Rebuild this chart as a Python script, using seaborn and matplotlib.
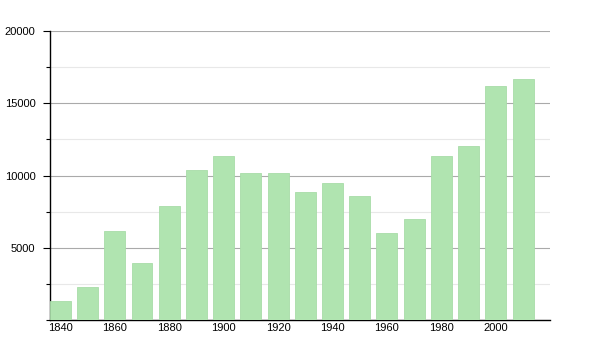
import matplotlib
matplotlib.use("Agg")
import matplotlib.pyplot as plt
import seaborn as sns
import pandas as pd
from matplotlib.ticker import MultipleLocator

years = [1840, 1850, 1860, 1870, 1880, 1890, 1900, 1910, 1920, 1930,
         1940, 1950, 1960, 1970, 1980, 1990, 2000, 2010]
population = [1300, 2280, 6160, 3950, 7890, 10380, 11350, 10170, 10170, 8860,
              9480, 8580, 6020, 6990, 11350, 12040, 16190, 16680]
ytick_values = [5000, 10000, 15000, 20000]
xtick_values = [1840, 1860, 1880, 1900, 1920, 1940, 1960, 1980, 2000]

df = pd.DataFrame({"year": years, "pop": population})

sns.set_style("white")
plt.rcParams["font.family"] = ["Liberation Sans", "DejaVu Sans"]
plt.rcParams["text.color"] = "black"
plt.rcParams["xtick.color"] = "black"
plt.rcParams["ytick.color"] = "black"

fig = plt.figure(figsize=(6, 3.5), dpi=100)
ax = fig.add_axes([50 / 600, 30 / 350, 500 / 600, 289 / 350])

sns.barplot(data=df, x="year", y="pop", native_scale=True, width=0.77,
            color="#b0e4b0", saturation=1, edgecolor="#a8dca8", linewidth=0.6,
            ax=ax, zorder=3)

ax.set_xlim(1836.2, 2019.9)
ax.set_ylim(0, 20000)
ax.set_xticks(xtick_values)
ax.set_xticklabels([str(v) for v in xtick_values])
ax.set_yticks(ytick_values)
ax.set_yticklabels([str(v) for v in ytick_values])
ax.yaxis.set_minor_locator(MultipleLocator(2500))

ax.grid(axis="y", which="major", color="#aaaaaa", linewidth=0.8, zorder=0)
ax.grid(axis="y", which="minor", color="#e8e8e8", linewidth=0.8, zorder=0)
ax.set_axisbelow(True)

for s in ["top", "right"]:
    ax.spines[s].set_visible(False)
for s in ["left", "bottom"]:
    ax.spines[s].set_color("black")
    ax.spines[s].set_linewidth(1.0)

ax.tick_params(axis="y", which="major", length=5, width=0.8, colors="black",
               labelsize=8, pad=5.5, left=True)
ax.tick_params(axis="y", which="minor", length=3, width=0.8, color="black", left=True)
ax.tick_params(axis="x", length=0, labelsize=8, pad=2, colors="black")
ax.set_xlabel("")
ax.set_ylabel("")

fig.savefig("out.png", dpi=100)
